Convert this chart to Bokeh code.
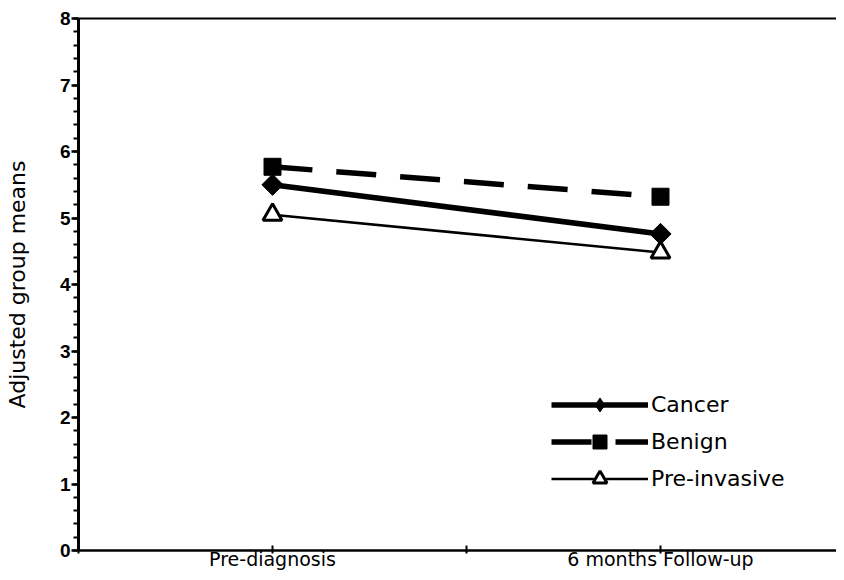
from bokeh.plotting import figure
from bokeh.models import Range1d, FixedTicker, SingleIntervalTicker, LinearAxis, Legend, LegendItem
from bokeh.embed import file_html
from bokeh.resources import INLINE
import math

# ---- data ----
categories = ["Pre-diagnosis", "6 months Follow-up"]
cancer = [5.50, 4.76]
benign = [5.77, 5.32]
preinvasive = [5.05, 4.48]
series_names = ["Cancer", "Benign", "Pre-invasive"]

# category positions: each category sits in the middle of a 2-unit slot
xpos = [1 + 2 * i for i in range(len(categories))]

FONT = "DejaVu Sans"
TICKFONT = "Liberation Sans"

W, H = 836, 572
LEFT = 78
p = figure(width=W, height=H, output_backend="svg", toolbar_location=None,
           x_range=Range1d(0, (W - LEFT) / 194), y_range=Range1d(0, 8),
           min_border_left=LEFT, min_border_right=0, min_border_top=18, min_border_bottom=0)
p.background_fill_color = "white"
p.border_fill_color = "white"
p.outline_line_color = None
p.xgrid.visible = False
p.ygrid.visible = False

# x axis
xa = p.xaxis[0]
xa.ticker = FixedTicker(ticks=[0, 1, 2, 3, 4])
overrides = {0: "", 2: "", 4: ""}
for i, c in enumerate(categories):
    overrides[xpos[i]] = c
xa.major_label_overrides = overrides
xa.axis_line_width = 2.5
xa.axis_line_color = "black"
xa.major_tick_in = 5
xa.major_tick_out = 3
xa.major_tick_line_width = 2
xa.minor_tick_line_color = None
xa.major_label_standoff = -6
xa.major_label_text_font = FONT
xa.major_label_text_font_size = "19px"
xa.major_label_text_color = "black"

# y axis
ya = p.yaxis[0]
ya.ticker = SingleIntervalTicker(interval=1, num_minor_ticks=5)
ya.axis_line_width = 3
ya.axis_line_color = "black"
ya.major_tick_in = 0
ya.major_tick_out = 7
ya.major_tick_line_width = 2.5
ya.minor_tick_in = 0
ya.minor_tick_out = 5
ya.minor_tick_line_width = 2
ya.major_label_standoff = 1
ya.major_label_text_font = TICKFONT
ya.major_label_text_font_size = "19px"
ya.major_label_text_font_style = "bold"
ya.major_label_text_color = "black"
ya.axis_label = "Adjusted group means"
ya.axis_label_text_font = FONT
ya.axis_label_text_font_size = "22px"
ya.axis_label_text_font_style = "normal"
ya.axis_label_text_color = "black"
ya.axis_label_standoff = 27

# top border line
top = LinearAxis(ticker=FixedTicker(ticks=[]), axis_line_width=2, axis_line_color="black",
                 major_tick_out=0, major_tick_in=0, minor_tick_out=0, minor_tick_in=0,
                 major_label_text_font_size="0px", major_label_standoff=0)
p.add_layout(top, "above")

# series
r1l = p.line(xpos, cancer, line_color="black", line_width=5.5)
r1m = p.scatter(xpos, cancer, marker="square", angle=math.pi / 4, size=15,
                fill_color="black", line_color="black")
# legend swatch: a diamond drawn underneath the rotated square at the same points
r1leg = p.scatter(xpos, cancer, marker="diamond", size=16, fill_color="black", line_color="black")
r2l = p.line(xpos, benign, line_color="black", line_width=5.5, line_dash="40 24")
r2m = p.scatter(xpos, benign, marker="square", size=17, fill_color="black", line_color="black")
r3l = p.line(xpos, preinvasive, line_color="black", line_width=2.5)
r3m = p.scatter(xpos, preinvasive, marker="triangle", size=19, fill_color="white",
                line_color="black", line_width=3)

legend = Legend(items=[
    LegendItem(label=series_names[0], renderers=[r1l, r1leg]),
    LegendItem(label=series_names[1], renderers=[r2l, r2m]),
    LegendItem(label=series_names[2], renderers=[r3l, r3m]),
], location=(473, 54))
legend.glyph_width = 97
legend.glyph_height = 35
legend.spacing = 2
legend.padding = 0
legend.margin = 0
legend.label_standoff = 3
legend.label_text_font = FONT
legend.label_text_font_size = "22px"
legend.label_text_color = "black"
legend.border_line_color = None
legend.background_fill_alpha = 0
p.add_layout(legend)

open("out.html", "w").write(file_html(p, INLINE))
